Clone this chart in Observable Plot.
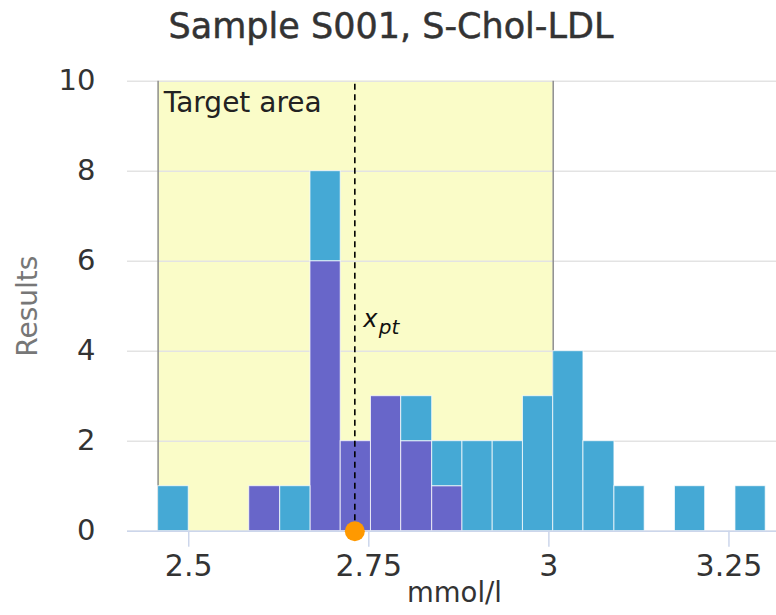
<!DOCTYPE html>
<html>
<head>
<meta charset="utf-8">
<script src="https://cdn.jsdelivr.net/npm/d3@7"></script>
<script src="https://cdn.jsdelivr.net/npm/@observablehq/plot@0.6"></script>
<style>
  html, body { margin: 0; padding: 0; background: #fff; }
  #title {
    width: 776px; height: 53px; line-height: 53px;
    text-align: center; padding-left: 6px; box-sizing: border-box;
    font-family: "DejaVu Sans", sans-serif; font-size: 35px; color: #333;
    -webkit-text-stroke: 0.5px #333; white-space: nowrap;
  }
</style>
</head>
<body>
<div id="title"></div>
<div id="chart"></div>
<script>
// ---- data ----
const chartTitle = "Sample S001, S-Chol-LDL";
const xLabel = "mmol/l";
const yLabel = "Results";
const targetLabel = "Target area";
const xptLabelMain = "x";
const xptLabelSub = "pt";

const binEdges = [2.4575, 2.500, 2.542, 2.584, 2.627, 2.669, 2.711, 2.753, 2.795, 2.838,
                  2.880, 2.922, 2.964, 3.006, 3.048, 3.091, 3.133, 3.175, 3.217, 3.259, 3.301];
const countsPurple = [0, 0, 0, 1, 0, 6, 2, 3, 2, 1, 0, 0, 0, 0, 0, 0, 0, 0, 0, 0];
const countsBlue   = [1, 0, 0, 0, 1, 2, 0, 0, 1, 1, 2, 2, 3, 4, 2, 1, 0, 1, 0, 1];
const groups = ["A", "B"];
const groupColors = ["#6866c9", "#45a9d5"];

const targetLow = 2.4575;
const targetHigh = 3.006;
const xpt = 2.7306;
const xptLabelY = 4.5;

const xDomain = [2.415, 3.316];
const yDomain = [0, 10];
const xTicks = [2.5, 2.75, 3, 3.25];
const yTicks = [0, 2, 4, 6, 8, 10];

// ---- build table ----
const bars = [];
countsPurple.forEach((c, i) => { if (c > 0) bars.push({x1: binEdges[i], x2: binEdges[i + 1], count: c, group: groups[0]}); });
countsBlue.forEach((c, i) => { if (c > 0) bars.push({x1: binEdges[i], x2: binEdges[i + 1], count: c, group: groups[1]}); });

document.getElementById("title").textContent = chartTitle;

const font = "DejaVu Sans, sans-serif";

const plot = Plot.plot({
  width: 776,
  height: 562,
  marginLeft: 127,
  marginRight: 0,
  marginTop: 27.7,
  marginBottom: 84.3,
  style: {fontFamily: font, fontSize: "30px", color: "#333", background: "#fff", overflow: "visible"},
  x: {domain: xDomain, label: null},
  y: {domain: yDomain, label: null},
  color: {domain: groups, range: groupColors},
  marks: [
    Plot.rect([{x1: targetLow, x2: targetHigh}], {x1: "x1", x2: "x2", y1: yDomain[0], y2: yDomain[1], fill: "#fafcc8"}),
    Plot.gridY(yTicks, {stroke: "#e3e3e3", strokeOpacity: 1, strokeWidth: 1.5}),
    Plot.ruleX([targetLow, targetHigh], {y1: yDomain[0], y2: yDomain[1], stroke: "#8e8e8e", strokeWidth: 1.5}),
    Plot.rectY(bars, {x1: "x1", x2: "x2", y: "count", fill: "group", stroke: "#ffffff", strokeWidth: 1, strokeOpacity: 0.75}),
    Plot.ruleY([0], {stroke: "#ccd6eb", strokeWidth: 1.5}),
    Plot.ruleX([xpt], {y1: yDomain[0], y2: yDomain[1], stroke: "#000", strokeWidth: 1.6, strokeDasharray: "6,4.5"}),
    Plot.dot([xpt], {x: d => d, y: 0, r: 10, fill: "#ff9900", stroke: null}),
    Plot.axisX(xTicks, {tickSize: 16, tickPadding: 7.5, stroke: "#ccd6eb", strokeWidth: 1.5, fill: "#333", fontSize: 30, tickFormat: d => String(d), label: null}),
    Plot.axisY(yTicks, {tickSize: 0, tickPadding: 32, fill: "#333", fontSize: 29, tickFormat: d => String(d), label: null}),
    Plot.text([{x: targetLow, y: yDomain[1], t: targetLabel}], {x: "x", y: "y", text: "t", textAnchor: "start", lineAnchor: "bottom", dx: 5.6, dy: 31, fontSize: 28, fill: "#222"}),
    Plot.text([{x: xpt, y: xptLabelY, t: xptLabelMain}], {x: "x", y: "y", text: "t", textAnchor: "start", lineAnchor: "bottom", dx: 8.5, dy: -2, fontSize: 24, fontStyle: "italic", fill: "#111"}),
    Plot.text([{x: xpt, y: xptLabelY, t: xptLabelSub}], {x: "x", y: "y", text: "t", textAnchor: "start", lineAnchor: "bottom", dx: 24, dy: 5, fontSize: 20, fontStyle: "italic", fill: "#111"}),
    Plot.text([yLabel], {frameAnchor: "left", text: d => d, rotate: -90, textAnchor: "middle", lineAnchor: "bottom", dx: -90.3, fontSize: 28, fill: "#777"}),
    Plot.text([xLabel], {frameAnchor: "bottom", text: d => d, textAnchor: "middle", lineAnchor: "bottom", dx: 2.5, dy: 71, fontSize: 27.5, fill: "#333"})
  ]
});
document.getElementById("chart").appendChild(plot);
</script>
</body>
</html>
